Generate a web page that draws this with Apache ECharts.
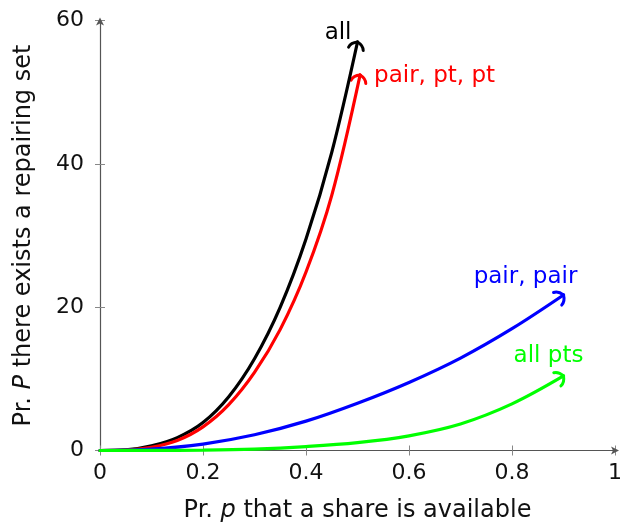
<!DOCTYPE html>
<html>
<head>
<meta charset="utf-8">
<script src="https://cdn.jsdelivr.net/npm/echarts@6/dist/echarts.min.js"></script>
<style>
html,body{margin:0;padding:0;background:#fff;}
#c{width:625px;height:532px;}
</style>
</head>
<body>
<div id="c"></div>
<script>
// ---- data ----
const xTicks = [0, 0.2, 0.4, 0.6, 0.8, 1];
const yTicks = [0, 20, 40, 60];

const allX = [0, 0.05, 0.1, 0.15, 0.2, 0.25, 0.3, 0.35, 0.4, 0.45, 0.5];
const allY = [0, 0.08, 0.65, 1.8, 3.9, 7.5, 12.8, 20.0, 29.5, 41.6, 57.0];

const pairPtPtX = [0, 0.05, 0.1, 0.15, 0.2, 0.25, 0.3, 0.35, 0.4, 0.45, 0.505];
const pairPtPtY = [0, 0.05, 0.45, 1.4, 3.3, 6.4, 10.9, 16.9, 24.9, 35.6, 52.4];

const pairPairX = [0, 0.1, 0.2, 0.3, 0.4, 0.5, 0.6, 0.7, 0.8, 0.9];
const pairPairY = [0, 0.2, 0.9, 2.2, 4.1, 6.6, 9.5, 12.9, 17.0, 21.7];

const allPtsX = [0, 0.1, 0.2, 0.3, 0.4, 0.5, 0.6, 0.7, 0.8, 0.9];
const allPtsY = [0, 0.01, 0.05, 0.2, 0.55, 1.1, 2.05, 3.7, 6.5, 10.4];

const seriesNames = ['all', 'pair, pt, pt', 'pair, pair', 'all pts'];
const seriesColors = ['#000000', '#ff0000', '#0000ff', '#00ff00'];

// ---- build ----
function zip(xs, ys) { return xs.map((x, i) => [x, ys[i]]); }
const seriesData = [zip(allX, allY), zip(pairPtPtX, pairPtPtY), zip(pairPairX, pairPairY), zip(allPtsX, allPtsY)];

const FONT = 'DejaVu Sans';
const axisCol = '#555';
const txtCol = '#111';
const richName = {
  n: {fontFamily: FONT, fontSize: 24, color: txtCol},
  i: {fontFamily: FONT, fontSize: 24, color: txtCol, fontStyle: 'italic'}
};

const chart = echarts.init(document.getElementById('c'), null, {renderer: 'canvas'});

const option = {
  animation: false,
  backgroundColor: '#fff',
  grid: {left: 100, top: 20.5, width: 516, height: 430, containLabel: false},
  xAxis: [{
    type: 'value', min: xTicks[0], max: xTicks[xTicks.length - 1], interval: 0.2,
    axisLine: {show: true, lineStyle: {color: axisCol, width: 1.2}, symbol: ['none', 'arrow'], symbolSize: [6, 8], symbolOffset: [0, 4]},
    axisTick: {show: true, length: 5, lineStyle: {color: '#888', width: 1}},
    axisLabel: {margin: 12, fontFamily: FONT, fontSize: 22, color: txtCol, formatter: function (v) { return String(v); }},
    splitLine: {show: false},
    name: '{n|Pr. }{i|p}{n| that a share is available}', nameLocation: 'middle', nameGap: 48,
    nameTextStyle: {fontFamily: FONT, fontSize: 24, color: txtCol, rich: richName}
  }, {
    type: 'value', min: xTicks[0], max: xTicks[xTicks.length - 1], interval: 0.2, position: 'bottom', offset: 0,
    axisLine: {show: false}, axisTick: {show: true, inside: true, length: 5, lineStyle: {color: '#888', width: 1}},
    axisLabel: {show: false}, splitLine: {show: false}
  }],
  yAxis: [{
    type: 'value', min: yTicks[0], max: yTicks[yTicks.length - 1], interval: 20,
    axisLine: {show: true, lineStyle: {color: axisCol, width: 1.2}, symbol: ['none', 'arrow'], symbolSize: [6, 8], symbolOffset: [0, 3]},
    axisTick: {show: true, length: 5, lineStyle: {color: '#888', width: 1}},
    axisLabel: {margin: 16, fontFamily: FONT, fontSize: 22, color: txtCol},
    splitLine: {show: false},
    name: '{n|Pr. }{i|P}{n| there exists a repairing set}', nameLocation: 'middle', nameGap: 64, nameRotate: 90,
    nameTextStyle: {fontFamily: FONT, fontSize: 24, color: txtCol, rich: richName}
  }, {
    type: 'value', min: yTicks[0], max: yTicks[yTicks.length - 1], interval: 20, position: 'left', offset: 0,
    axisLine: {show: false}, axisTick: {show: true, inside: true, length: 5, lineStyle: {color: '#888', width: 1}},
    axisLabel: {show: false}, splitLine: {show: false}
  }],
  series: seriesData.map((d, i) => ({
    type: 'line', name: seriesNames[i], data: d, xAxisIndex: 0, yAxisIndex: 0,
    smooth: 0.35, showSymbol: false, symbol: 'none',
    lineStyle: {color: seriesColors[i], width: 3.2, cap: 'round'},
    z: 2 + i
  }))
};
chart.setOption(option);

// ---- arrowheads and end labels, positioned through the axes ----
function px(pt) { return chart.convertToPixel({xAxisIndex: 0, yAxisIndex: 0}, pt); }
function arrowHead(d, color) {
  const p = px(d[d.length - 1]);
  const q = px(d[d.length - 2]);
  const ang = Math.atan2(p[1] - q[1], p[0] - q[0]);
  const st = {stroke: color, lineWidth: 3, fill: null, lineCap: 'round'};
  return {
    type: 'group', x: p[0], y: p[1], rotation: -ang, z: 20,
    children: [
      {type: 'bezierCurve', shape: {x1: 0, y1: 0, cpx1: -1.5, cpy1: -4.5, cpx2: -3, cpy2: -6.5, x2: -7, y2: -7.5}, style: st},
      {type: 'bezierCurve', shape: {x1: 0, y1: 0, cpx1: -1.5, cpy1: 4.5, cpx2: -3, cpy2: 6.5, x2: -7, y2: 7.5}, style: st}
    ]
  };
}
const labelOffsets = [
  {dx: -6, dy: -9, align: 'right'},
  {dx: 14, dy: 1, align: 'left'},
  {dx: -38, dy: -18, align: 'center'},
  {dx: -15, dy: -20, align: 'center'}
];
const graphics = [];
seriesData.forEach((d, i) => {
  graphics.push(arrowHead(d, seriesColors[i]));
  const p = px(d[d.length - 1]);
  const o = labelOffsets[i];
  graphics.push({
    type: 'text', x: p[0] + o.dx, y: p[1] + o.dy, z: 30,
    style: {text: seriesNames[i], fill: seriesColors[i], font: '23px "' + FONT + '"', textAlign: o.align, textVerticalAlign: 'middle'}
  });
});
chart.setOption({graphic: graphics});
</script>
</body>
</html>
